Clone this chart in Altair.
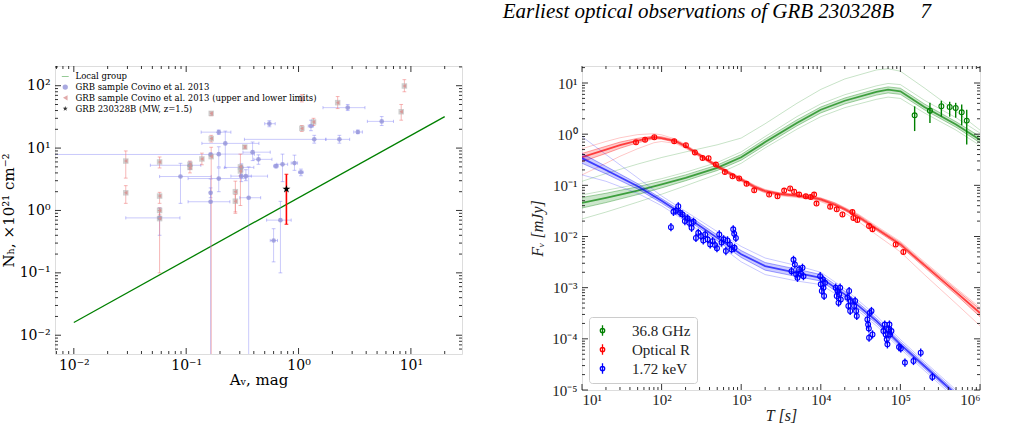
import altair as alt
import pandas as pd

SERIF = "DejaVu Serif"
RSERIF = "Liberation Serif"

# ---------------- left panel data ----------------
lg_av = [0.01, 20.0]
lg_nh = [0.016, 32.0]

bl_av  = [0.165, 0.089, 0.195, 0.223, 0.195, 0.195, 0.165, 0.165, 0.31, 0.34, 0.36, 0.39, 0.44, 0.55, 0.63, 0.72, 0.92, 1.05, 0.69, 0.60, 1.29, 1.38, 2.31, 2.74, 3.37, 5.5, 0.058, 0.108, 0.31]
bl_nh  = [7.9, 3.5, 18.0, 11.9, 8.0, 3.25, 1.92, 1.38, 3.55, 3.55, 1.6, 8.6, 6.6, 24.6, 5.15, 5.5, 5.75, 4.1, 0.70, 0.33, 22.6, 13.8, 13.8, 44.5, 18.1, 26.8, 0.76, 5.3, 4.9]
bl_xlo = [0.001, 0.058, 0.136, 0.138, 0.167, 0.104, 0.165, 0.104, 0.25, 0.30, 0.30, 0.32, 0.40, 0.50, 0.60, 0.64, 0.86, 1.0, 0.52, 0.56, 1.22, 0.33, 1.75, 1.65, 3.1, 4.1, 0.029, 0.048, 0.22]
bl_xhi = [0.167, 0.167, 0.25, 0.444, 0.405, 0.34, 0.165, 0.245, 0.53, 0.38, 0.46, 0.56, 0.58, 0.62, 0.66, 0.80, 0.98, 1.1, 0.86, 0.65, 1.36, 1.75, 2.85, 3.9, 3.7, 7.0, 0.088, 0.135, 0.40]
bl_ylo = [7.5, 1.3, 16.5, 4.8, 5.0, 2.0, 1.6, 0.001, 2.9, 3.0, 0.001, 6.3, 5.5, 22.0, 4.8, 2.9, 4.4, 3.6, 0.1, 0.15, 19.0, 12.0, 12.0, 40.0, 17.0, 23.0, 0.4, 4.6, 4.2]
bl_yhi = [8.3, 5.7, 19.5, 18.7, 10.5, 4.8, 2.3, 3.2, 4.4, 4.5, 5.0, 12.5, 7.8, 27.5, 5.5, 8.0, 7.7, 4.6, 1.4, 0.51, 28.0, 16.0, 16.0, 50.0, 19.5, 32.0, 1.1, 6.0, 5.6]

rd_av  = [0.029, 0.029, 0.058, 0.058, 0.058, 0.058, 0.108, 0.108, 0.138, 0.167, 0.167, 0.167, 0.274, 0.274, 0.304, 0.304, 0.332, 1.07, 1.07, 1.36, 2.23, 8.2, 8.75]
rd_nh  = [6.2, 1.92, 6.0, 1.7, 1.0, 0.74, 5.5, 4.9, 6.7, 36.0, 14.2, 7.3, 2.0, 1.41, 5.0, 4.3, 10.4, 62.8, 20.7, 26.2, 53.5, 38.3, 99.0]
rd_ylo = [3.3, 1.3, 4.8, 1.3, 0.85, 0.1, 4.6, 4.0, 5.4, 33.0, 12.5, 0.001, 0.95, 0.9, 1.2, 3.6, 9.8, 55.0, 18.5, 23.0, 43.0, 28.0, 80.0]
rd_yhi = [9.0, 2.5, 7.2, 1.95, 1.1, 1.0, 6.2, 5.4, 8.3, 38.0, 16.0, 10.3, 2.95, 1.8, 8.0, 5.0, 11.0, 72.0, 23.0, 30.0, 67.0, 50.0, 125.0]

st_av, st_nh, st_lo, st_hi = [0.78], [2.2], [0.6], [3.8]

SER = ["Local group", "GRB sample Covino et al. 2013",
       "GRB sample Covino et al. 2013 (upper and lower limits)", "GRB 230328B (MW, z=1.5)"]

# ---------------- right panel data ----------------
r_T  = [47.7, 62, 81, 144, 202, 262, 327, 389, 481, 624, 778, 944, 1167, 1456, 2244, 2857, 3467, 4121, 4625, 5345, 6486, 7482, 8240, 8826, 13100, 15860, 18700, 24950, 25700, 28800, 40400, 44600, 87300, 109000]
r_F  = [0.695, 0.78, 0.87, 0.73, 0.61, 0.44, 0.343, 0.34, 0.255, 0.183, 0.15, 0.136, 0.107, 0.080, 0.066, 0.061, 0.079, 0.087, 0.075, 0.066, 0.061, 0.059, 0.066, 0.044, 0.038, 0.034, 0.027, 0.030, 0.023, 0.021, 0.016, 0.0139, 0.0070, 0.0050]
r_err = 0.04  # dex

g_T  = [151000, 235000, 327000, 416000, 495000, 589000, 681000]
g_F  = [2.34, 2.88, 3.51, 3.40, 3.25, 2.67, 1.84]
g_lo = [1.15, 1.65, 2.2, 2.2, 2.1, 1.5, 0.63]
g_hi = [3.5, 4.1, 4.5, 4.3, 4.1, 3.8, 3.0]

b_T = [131, 141, 151, 162, 171, 183, 196, 212, 222, 238, 252, 270, 289, 312, 334, 353, 378, 408, 437, 468, 496, 530, 567, 600, 642, 673, 721, 757, 794, 825, 857, 817,
       4285, 4540, 4720, 4900, 5095, 5345, 5610, 5890, 6055,
       9820, 10000, 10300, 10600, 10800, 11000, 11300,
       15400, 15860, 16200, 16700, 17000, 17500, 17800,
       21600, 22200, 22700, 23400, 23800,
       26200, 27000, 27800, 28300,
       38500, 39300, 40100, 40400, 41200, 44600, 43300,
       61200, 63600, 65500, 67400, 68700, 70700, 72800, 74200, 77100,
       96100, 101000, 114000, 146000, 180000, 252000]
b_F = [0.0152, 0.0303, 0.032, 0.039, 0.029, 0.027, 0.020, 0.0225, 0.0185, 0.0148, 0.0194, 0.0094, 0.0118, 0.0102, 0.0084, 0.011, 0.0088, 0.0070, 0.0081, 0.0068, 0.0059, 0.011, 0.0076, 0.0088, 0.0052, 0.0084, 0.0070, 0.0056, 0.0138, 0.0060, 0.0094, 0.0113,
       0.0021, 0.0035, 0.00284, 0.00182, 0.00156, 0.00228, 0.00187, 0.00245, 0.00168,
       0.00168, 0.00116, 0.00086, 0.00145, 0.0010, 0.00069, 0.00125,
       0.0010, 0.00069, 0.00086, 0.00051, 0.00074, 0.0010, 0.00059,
       0.00064, 0.00044, 0.00086, 0.00035, 0.00055,
       0.00044, 0.00055, 0.00035, 0.00028,
       0.00024, 0.00019, 0.00016, 0.000105, 0.00032, 0.000122, 0.00035,
       0.000142, 0.00019, 0.000122, 0.000098, 0.000078, 0.000153, 0.00019, 0.000122, 0.000142,
       0.000069, 0.000065, 0.0000343, 0.0000369, 0.0000537, 0.0000180]
b_err = 0.08  # dex

# model ensembles
rm_T   = [10, 20, 30, 50, 80, 100, 150, 200, 300, 500, 700, 1000, 1500, 2000, 3000, 5000, 8000, 1e4, 1.5e4, 2e4, 3e4, 5e4, 1e5, 2e5, 5e5, 1e6]
rm_c   = [0.354, 0.50, 0.61, 0.75, 0.87, 0.84, 0.73, 0.58, 0.39, 0.236, 0.175, 0.13, 0.092, 0.077, 0.068, 0.063, 0.057, 0.053, 0.042, 0.034, 0.024, 0.0141, 0.0070, 0.00275, 0.00082, 0.00032]
rm_hi1 = [0.42, 0.58, 0.70, 0.83, 0.92, 0.89, 0.77, 0.61, 0.41, 0.25, 0.185, 0.137, 0.097, 0.081, 0.071, 0.066, 0.060, 0.056, 0.045, 0.036, 0.026, 0.0152, 0.0076, 0.0030, 0.00092, 0.00038]
rm_lo1 = [0.29, 0.42, 0.53, 0.68, 0.81, 0.80, 0.69, 0.55, 0.37, 0.224, 0.166, 0.123, 0.087, 0.073, 0.065, 0.060, 0.054, 0.050, 0.040, 0.032, 0.0225, 0.0131, 0.0064, 0.0025, 0.00073, 0.00027]
rm_hi2 = [0.52, 0.72, 0.85, 0.98, 1.02, 0.97, 0.80, 0.63, 0.42, 0.255, 0.19, 0.14, 0.10, 0.083, 0.072, 0.067, 0.061, 0.057, 0.046, 0.037, 0.027, 0.016, 0.0080, 0.0032, 0.00098, 0.00041]
rm_lo2 = [0.16, 0.27, 0.37, 0.52, 0.68, 0.72, 0.66, 0.53, 0.36, 0.22, 0.163, 0.12, 0.085, 0.071, 0.063, 0.058, 0.052, 0.048, 0.037, 0.029, 0.0195, 0.0108, 0.0050, 0.0018, 0.00049, 0.00018]

gm_T   = [10, 20, 50, 100, 200, 500, 1000, 2000, 5000, 1e4, 2e4, 5e4, 7e4, 1e5, 2e5, 5e5, 1e6]
gm_c   = [0.0455, 0.057, 0.079, 0.104, 0.14, 0.22, 0.354, 0.70, 1.66, 3.0, 4.5, 6.7, 7.4, 6.9, 3.4, 1.55, 0.78]
gm_hi1 = [0.058, 0.070, 0.094, 0.121, 0.16, 0.25, 0.40, 0.80, 1.9, 3.4, 5.1, 7.6, 8.4, 7.9, 3.9, 1.75, 0.9]
gm_lo1 = [0.036, 0.046, 0.066, 0.089, 0.123, 0.195, 0.31, 0.61, 1.45, 2.6, 3.9, 5.8, 6.4, 6.0, 3.0, 1.37, 0.68]
gm_hi2 = [0.065, 0.08, 0.105, 0.135, 0.18, 0.28, 0.45, 0.90, 2.2, 3.9, 5.9, 8.8, 9.8, 9.3, 4.6, 2.1, 1.05]
gm_lo2 = [0.022, 0.030, 0.047, 0.067, 0.098, 0.165, 0.27, 0.54, 1.25, 2.2, 3.3, 4.8, 5.3, 5.0, 2.6, 1.2, 0.6]
gm_out = [0.12, 0.17, 0.26, 0.35, 0.45, 0.62, 0.84, 1.6, 4.0, 7.5, 12.0, 18.0, 19.0, 17.0, 8.0, 2.8, 1.2]

bm_T   = [10, 20, 50, 100, 200, 500, 1000, 2000, 5000, 1e4, 2e4, 5e4, 1e5, 2e5, 4e5, 1e6]
bm_c   = [0.34, 0.20, 0.096, 0.050, 0.025, 0.0094, 0.0045, 0.00264, 0.00195, 0.00156, 0.00074, 0.000224, 0.000078, 0.0000295, 0.0000112, 0.0000031]
bm_hi1 = [0.42, 0.235, 0.108, 0.055, 0.028, 0.0107, 0.0053, 0.0031, 0.0023, 0.00180, 0.00085, 0.00025, 0.000088, 0.000033, 0.0000125, 0.0000035]
bm_lo1 = [0.27, 0.168, 0.085, 0.045, 0.0225, 0.0083, 0.0039, 0.0022, 0.00165, 0.00135, 0.00065, 0.000200, 0.000070, 0.0000265, 0.0000100, 0.0000028]
bm_hi2 = [0.9, 0.40, 0.14, 0.062, 0.031, 0.0125, 0.0064, 0.0038, 0.0027, 0.0020, 0.00095, 0.00028, 0.000097, 0.000036, 0.0000137, 0.0000038]
bm_lo2 = [0.16, 0.12, 0.07, 0.040, 0.020, 0.0072, 0.0032, 0.0018, 0.00135, 0.00115, 0.00058, 0.00018, 0.000064, 0.000024, 0.0000091, 0.0000025]

BANDS = ["36.8 GHz", "Optical R", "1.72 keV"]
BAND_COLORS = ["#008000", "#ff0000", "#0000ff"]

# ---------------- helpers ----------------
SUP = "['⁻⁵','⁻⁴','⁻³','⁻²','⁻¹','⁰','¹','²','³','⁴','⁵','⁶']"
LABEL_EXPR = "'10' + " + SUP + "[round(log(datum.value)/LN10)+5]"
STAR = "M0,-1L0.2245,-0.309L0.951,-0.309L0.363,0.118L0.588,0.809L0,0.382L-0.588,0.809L-0.363,0.118L-0.951,-0.309L-0.2245,-0.309Z"
BAR = "M-1.3,-0.1L1.3,-0.1L1.3,0.1L-1.3,0.1Z"
VBAR = "M0,-1L0,1"


def minor(lo_e, hi_e, dmin, dmax):
    return [k * 10.0 ** e for e in range(lo_e, hi_e + 1) for k in range(2, 10) if dmin < k * 10.0 ** e < dmax]


def tick_layers(X, Y, W, H, xmaj, xmin, ymaj, ymin):
    out = []
    for vals, ln in ((xmaj, 6), (xmin, 3)):
        d = pd.DataFrame({"v": vals})
        for y0, y1 in ((H, H - ln), (0, ln)):
            out.append(alt.Chart(d).mark_rule(color="black", strokeWidth=0.8).encode(
                x=X("v:Q"), y=alt.value(y0), y2=alt.value(y1)))
    for vals, ln in ((ymaj, 6), (ymin, 3)):
        d = pd.DataFrame({"v": vals})
        for x0, x1 in ((0, ln), (W, W - ln)):
            out.append(alt.Chart(d).mark_rule(color="black", strokeWidth=0.8).encode(
                y=Y("v:Q"), x=alt.value(x0), x2=alt.value(x1)))
    return out


# ---------------- left panel ----------------
LW, LH = 407, 288
LXS = alt.Scale(type="log", domain=[0.0068, 28.5], nice=False)
LYS = alt.Scale(type="log", domain=[0.005, 207], nice=False)
LXA = alt.Axis(values=[0.01, 0.1, 1, 10], labelExpr=LABEL_EXPR, ticks=False, domain=False, grid=False,
               labelFont=SERIF, labelFontSize=14, labelColor="black", labelPadding=4, title="Aᵥ, mag",
               titleFont=SERIF, titleFontSize=15, titleFontWeight="normal", titleColor="black", titlePadding=0)
LYA = alt.Axis(values=[0.01, 0.1, 1, 10, 100], labelExpr=LABEL_EXPR, ticks=False, domain=False, grid=False,
               labelFont=SERIF, labelFontSize=14, labelColor="black", labelPadding=5, title="Nₕ, ×10²¹ cm⁻²",
               titleFont=SERIF, titleFontSize=15, titleFontWeight="normal", titleColor="black", titlePadding=3)
lcol = alt.Scale(domain=SER, range=["#008000", "#9494d8", "#d99494", "#000000"])
lshp = alt.Scale(domain=SER, range=[BAR, "circle", "triangle-left", STAR])
lleg = alt.Legend(orient="top-left", title=None, labelFont=SERIF, labelFontSize=8.5, symbolSize=28,
                  offset=6, rowPadding=1.8, labelLimit=600, labelOffset=6, labelColor="black")

bl = pd.DataFrame({"av": bl_av, "nh": bl_nh, "xlo": bl_xlo, "xhi": bl_xhi, "ylo": bl_ylo, "yhi": bl_yhi, "s": SER[1]})
rd = pd.DataFrame({"av": rd_av, "nh": rd_nh, "ylo": rd_ylo, "yhi": rd_yhi, "s": SER[2]})
st = pd.DataFrame({"av": st_av, "nh": st_nh, "ylo": st_lo, "yhi": st_hi, "s": SER[3]})
lg = pd.DataFrame({"av": lg_av, "nh": lg_nh, "s": SER[0]})


def LX(f):
    return alt.X(f, scale=LXS, axis=LXA)


def LY(f):
    return alt.Y(f, scale=LYS, axis=LYA)


def LC():
    return dict(color=alt.Color("s:N", scale=lcol, legend=lleg), shape=alt.Shape("s:N", scale=lshp, legend=lleg))


left_layers = [
    alt.Chart(lg).mark_line(color="#008000", strokeWidth=1.3).encode(x=LX("av:Q"), y=LY("nh:Q")),
    # blue error bars
    alt.Chart(bl).mark_rule(color="#7b7bf5", opacity=0.4, strokeWidth=1, clip=True).encode(
        x=LX("av:Q"), y=LY("ylo:Q"), y2="yhi:Q"),
    alt.Chart(bl).mark_rule(color="#7b7bf5", opacity=0.4, strokeWidth=1, clip=True).encode(
        x=LX("xlo:Q"), x2="xhi:Q", y=LY("nh:Q")),
    alt.Chart(bl).transform_fold(["ylo", "yhi"], as_=["k", "v"]).mark_point(
        shape="stroke", size=14, color="#7b7bf5", opacity=0.45, strokeWidth=1, clip=True).encode(
        x=LX("av:Q"), y=LY("v:Q")),
    alt.Chart(bl).transform_fold(["xlo", "xhi"], as_=["k", "v"]).mark_point(
        shape=VBAR, size=10, color="#7b7bf5", opacity=0.45, strokeWidth=1, clip=True).encode(
        x=LX("v:Q"), y=LY("nh:Q")),
    # red error bars
    alt.Chart(rd).mark_rule(color="#f07070", opacity=0.5, strokeWidth=1, clip=True).encode(
        x=LX("av:Q"), y=LY("ylo:Q"), y2="yhi:Q"),
    alt.Chart(rd).transform_fold(["ylo", "yhi"], as_=["k", "v"]).mark_point(
        shape="stroke", size=14, color="#f07070", opacity=0.5, strokeWidth=1, clip=True).encode(
        x=LX("av:Q"), y=LY("v:Q")),
    # markers
    alt.Chart(bl).mark_point(filled=True, size=22, opacity=0.8).encode(x=LX("av:Q"), y=LY("nh:Q"), **LC()),
    alt.Chart(rd).mark_square(size=30, color="#aaaaaa", opacity=0.55).encode(x=LX("av:Q"), y=LY("nh:Q")),
    alt.Chart(rd).mark_point(filled=True, size=16, opacity=0.9).encode(x=LX("av:Q"), y=LY("nh:Q"), **LC()),
    alt.Chart(st).mark_rule(color="red", strokeWidth=1.6).encode(x=LX("av:Q"), y=LY("ylo:Q"), y2="yhi:Q"),
    alt.Chart(st).transform_fold(["ylo", "yhi"], as_=["k", "v"]).mark_point(
        shape="stroke", size=14, color="red", strokeWidth=1.2).encode(x=LX("av:Q"), y=LY("v:Q")),
    alt.Chart(st).mark_point(filled=True, size=70, opacity=1).encode(x=LX("av:Q"), y=LY("nh:Q"), **LC()),
]
left_layers += tick_layers(LX, LY, LW, LH, [0.01, 0.1, 1, 10], minor(-3, 1, 0.0068, 28.5),
                           [0.01, 0.1, 1, 10, 100], minor(-3, 2, 0.005, 207))
left = alt.layer(*left_layers).properties(width=LW, height=LH)

# ---------------- right panel ----------------
RW, RH = 398, 324
RXS = alt.Scale(type="log", domain=[10, 1e6], nice=False)
RYS = alt.Scale(type="log", domain=[1e-5, 21.5], nice=False)
RXA = alt.Axis(values=[10, 100, 1e3, 1e4, 1e5, 1e6], labelExpr=LABEL_EXPR, ticks=False, domain=False,
               grid=False, labelFont=RSERIF, labelFontSize=15, labelColor="#222222", labelPadding=2, title="T [s]",
               titleFont=RSERIF, titleFontSize=16, titleFontWeight="normal", titleFontStyle="italic",
               titleColor="#222222", titlePadding=0)
RYA = alt.Axis(values=[1e-5, 1e-4, 1e-3, 1e-2, 1e-1, 1, 10], labelExpr=LABEL_EXPR, ticks=False,
               domain=False, grid=False, labelFont=RSERIF, labelFontSize=15, labelColor="#222222",
               labelPadding=5, title="Fᵥ [mJy]", titleFont=RSERIF, titleFontSize=16, titleFontWeight="normal",
               titleFontStyle="italic", titleColor="#222222", titlePadding=6)
rcol = alt.Scale(domain=BANDS, range=BAND_COLORS)
LEGSYM = "M0,-1L0,1M-0.42,0A0.42,0.42 0 1,1 0.42,0A0.42,0.42 0 1,1 -0.42,0"
rleg = alt.Legend(orient="bottom-left", title=None, symbolType=LEGSYM, symbolSize=110, symbolStrokeWidth=1.3,
                  labelFont=RSERIF, labelFontSize=15, labelColor="#222222", labelOffset=22, rowPadding=2,
                  strokeColor="#cccccc", cornerRadius=3, padding=6, fillColor="white", offset=7)


def model_rows(band, T, series):
    rows = []
    for kind, vals in series.items():
        for t, f in zip(T, vals):
            rows.append({"band": band, "kind": kind, "T": t, "F": f})
    return rows


rows = []
rows += model_rows(BANDS[0], gm_T, {"c": gm_c, "hi1": gm_hi1, "lo1": gm_lo1, "hi2": gm_hi2, "lo2": gm_lo2, "out": gm_out})
rows += model_rows(BANDS[1], rm_T, {"c": rm_c, "hi1": rm_hi1, "lo1": rm_lo1, "hi2": rm_hi2, "lo2": rm_lo2})
rows += model_rows(BANDS[2], bm_T, {"c": bm_c, "hi1": bm_hi1, "lo1": bm_lo1, "hi2": bm_hi2, "lo2": bm_lo2})
mdl = pd.DataFrame(rows)

area = pd.concat([
    pd.DataFrame({"band": BANDS[0], "T": gm_T, "lo": gm_lo1, "hi": gm_hi1}),
    pd.DataFrame({"band": BANDS[1], "T": rm_T, "lo": rm_lo1, "hi": rm_hi1}),
    pd.DataFrame({"band": BANDS[2], "T": bm_T, "lo": bm_lo1, "hi": bm_hi1}),
])

obs = pd.concat([
    pd.DataFrame({"band": BANDS[0], "T": g_T, "F": g_F, "lo": g_lo, "hi": g_hi}),
    pd.DataFrame({"band": BANDS[1], "T": r_T, "F": r_F,
                  "lo": [f / 10 ** r_err for f in r_F], "hi": [f * 10 ** r_err for f in r_F]}),
    pd.DataFrame({"band": BANDS[2], "T": b_T, "F": b_F,
                  "lo": [f / 10 ** b_err for f in b_F], "hi": [f * 10 ** b_err for f in b_F]}),
])


def RX(f):
    return alt.X(f, scale=RXS, axis=RXA)


def RY(f):
    return alt.Y(f, scale=RYS, axis=RYA)


right_layers = []
for band, col in zip(BANDS, BAND_COLORS):
    fb = "datum.band=='%s'" % band
    right_layers += [
        alt.Chart(area).transform_filter(fb).mark_area(opacity=0.2, color=col, clip=True).encode(
            x=RX("T:Q"), y=RY("lo:Q"), y2="hi:Q"),
        alt.Chart(mdl).transform_filter(fb + " && (datum.kind=='hi2' || datum.kind=='lo2' || datum.kind=='out')").mark_line(
            opacity=0.22, strokeWidth=1, color=col, clip=True).encode(x=RX("T:Q"), y=RY("F:Q"), detail="kind:N"),
        alt.Chart(mdl).transform_filter(fb + " && (datum.kind=='hi1' || datum.kind=='lo1')").mark_line(
            opacity=0.35, strokeWidth=1, color=col, clip=True).encode(x=RX("T:Q"), y=RY("F:Q"), detail="kind:N"),
        alt.Chart(mdl).transform_filter(fb + " && datum.kind=='c'").mark_line(
            opacity=0.7, strokeWidth=1.8, color=col, clip=True).encode(x=RX("T:Q"), y=RY("F:Q")),
    ]
for band, col in zip(BANDS, BAND_COLORS):
    right_layers.append(
        alt.Chart(obs).transform_filter("datum.band=='%s'" % band).mark_rule(
            strokeWidth=1.4, color=col, clip=True).encode(x=RX("T:Q"), y=RY("lo:Q"), y2="hi:Q"))
right_layers.append(
    alt.Chart(obs).mark_point(filled=False, size=24, strokeWidth=1.1, opacity=1, clip=True).encode(
        x=RX("T:Q"), y=RY("F:Q"), color=alt.Color("band:N", scale=rcol, legend=rleg)))
right_layers += tick_layers(RX, RY, RW, RH, [10, 100, 1e3, 1e4, 1e5, 1e6], minor(1, 5, 10, 1e6),
                            [1e-5, 1e-4, 1e-3, 1e-2, 1e-1, 1, 10], minor(-5, 1, 1e-5, 21.5))
right = alt.layer(*right_layers).properties(width=RW, height=RH)

NB = "\u00a0" * 5
chart = alt.hconcat(left, right, spacing=66).resolve_scale(
    color="independent", shape="independent").resolve_legend(color="independent", shape="independent").properties(
    title=alt.TitleParams("Earliest optical observations of GRB 230328B" + NB + "7", anchor="end",
                          font="Liberation Serif", fontStyle="italic", fontWeight="normal", fontSize=21,
                          color="black", offset=43, dx=-50),
    padding={"left": 0, "top": 1, "right": 0, "bottom": 0},
).configure_view(stroke="black", strokeWidth=1).configure(background="white")

chart.save("out.html", embed_options={"renderer": "svg", "actions": False})
